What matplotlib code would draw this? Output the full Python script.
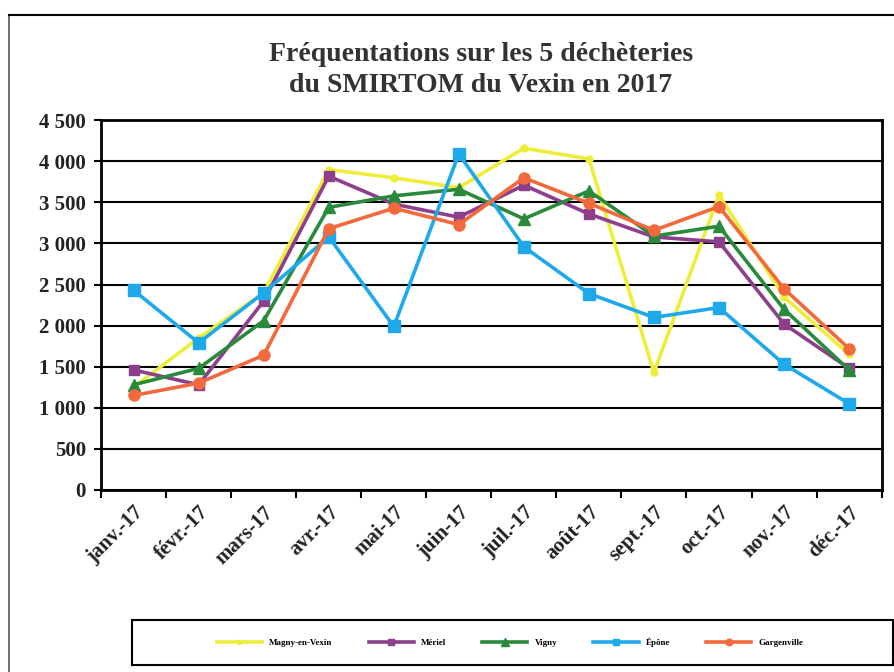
import matplotlib.pyplot as plt
import matplotlib.ticker as mticker
from matplotlib.patches import Rectangle
import numpy as np

plt.rcParams['font.family'] = ['Liberation Serif', 'DejaVu Serif']

months = ["janv.-17", "févr.-17", "mars-17", "avr.-17", "mai-17", "juin-17",
          "juil.-17", "août-17", "sept.-17", "oct.-17", "nov.-17", "déc.-17"]

magny = [1250, 1850, 2400, 3900, 3800, 3680, 4160, 4030, 1430, 3590, 2350, 1650]
meriel = [1460, 1280, 2300, 3820, 3480, 3320, 3710, 3360, 3080, 3020, 2020, 1480]
vigny = [1280, 1480, 2060, 3440, 3580, 3660, 3300, 3640, 3090, 3210, 2200, 1460]
epone = [2430, 1790, 2400, 3080, 1990, 4090, 2960, 2390, 2100, 2220, 1530, 1050]
gargenville = [1150, 1300, 1640, 3180, 3430, 3230, 3800, 3490, 3160, 3450, 2450, 1720]

series = [
    ("Magny-en-Vexin", magny, "#eeee3a", "o", 5),
    ("Mériel", meriel, "#8e3f8c", "s", 7),
    ("Vigny", vigny, "#2a8a3c", "^", 9),
    ("Épône", epone, "#1fa9ea", "s", 8),
    ("Gargenville", gargenville, "#f26a3c", "o", 8),
]

fig = plt.figure(figsize=(8.95, 6.72), dpi=100)
ax = fig.add_axes([0.113, 0.271, 0.872, 0.550])

x = np.arange(len(months))
for name, vals, col, mk, ms in series:
    ax.plot(x, vals, color=col, lw=2.6, marker=mk, markersize=ms, label=name, zorder=3)

ax.set_xlim(-0.5, len(months) - 0.5)
ax.set_ylim(0, 4500)
ax.set_yticks(np.arange(0, 4501, 500))
ax.yaxis.set_major_formatter(mticker.FuncFormatter(lambda v, p: f"{int(v):,}".replace(",", " ")))
ax.grid(axis='y', color='black', lw=1.5, zorder=1)

ax.set_xticks(x)
ax.set_xticklabels(months, rotation=45, ha='right', rotation_mode='anchor')
ax.set_xticks(np.arange(-0.5, len(months)), minor=True)
ax.tick_params(axis='x', which='major', length=0, pad=9, labelsize=15)
ax.tick_params(axis='x', which='minor', length=6, width=1.5)
ax.tick_params(axis='y', length=5, width=1.5, labelsize=15, pad=6)
for lab in ax.get_xticklabels() + ax.get_yticklabels():
    lab.set_fontweight('bold')
    lab.set_color('#222222')
for sp in ax.spines.values():
    sp.set_linewidth(2)

fig.text(0.537, 0.896, "Fréquentations sur les 5 déchèteries\ndu SMIRTOM du Vexin en 2017",
         ha='center', va='center', fontsize=20, fontweight='bold', color='#333333',
         linespacing=1.3)

fig.add_artist(Rectangle((0.148, 0.01), 0.85, 0.067, transform=fig.transFigure,
                         fill=False, lw=1.5, ec='black'))
fig.legend(loc='center', bbox_to_anchor=(0.57, 0.044), ncol=5, frameon=False,
           handlelength=5, columnspacing=4, markerscale=0.6,
           prop={'weight': 'bold', 'size': 6.5})

fig.add_artist(plt.Line2D([0.01, 0.01], [0.0, 0.978], transform=fig.transFigure,
                          color='#555555', lw=1.2))
fig.add_artist(plt.Line2D([0.01, 1.0], [0.978, 0.978], transform=fig.transFigure,
                          color='black', lw=1.5))

fig.savefig("out.png", dpi=100)
